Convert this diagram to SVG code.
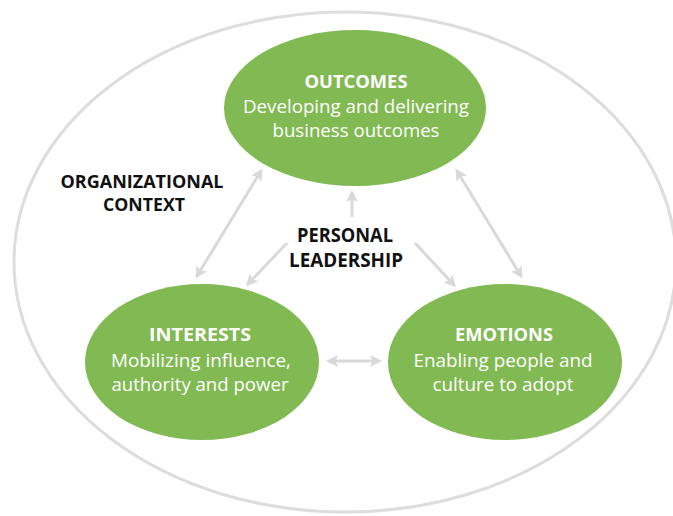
<svg xmlns="http://www.w3.org/2000/svg" width="673" height="516" viewBox="0 0 673 516">
  <style>
    .bubble { fill: #81b952; }
    .ctx { fill: none; stroke: #dddddd; stroke-width: 3; }
    .link { fill: none; stroke: #d9d9d9; stroke-width: 3; }
    .head { font-family: "Open Sans", "Liberation Sans", sans-serif; font-weight: bold; font-size: 18.5px; fill: #ffffff; text-anchor: middle; }
    .body { font-family: "Open Sans", "Liberation Sans", sans-serif; font-size: 18.5px; fill: #ffffff; text-anchor: middle; }
    .label { font-family: "Open Sans", "Liberation Sans", sans-serif; font-weight: bold; font-size: 19px; fill: #111111; text-anchor: middle; }
    .small { font-size: 18px; }
  </style>
  <defs>
    <marker id="arrow" viewBox="0 0 12 12" refX="9" refY="6" markerWidth="12" markerHeight="12" markerUnits="userSpaceOnUse" orient="auto-start-reverse">
      <path d="M0,0 L12,6 L0,12 L2.5,6 z" fill="#d9d9d9"/>
    </marker>
  </defs>
  <rect width="673" height="516" fill="#ffffff"/>

  <!-- organizational context boundary -->
  <g id="context">
    <ellipse class="ctx" cx="345" cy="262" rx="331" ry="250"/>
    <text class="label small" x="142" y="188" textLength="163" lengthAdjust="spacingAndGlyphs">ORGANIZATIONAL</text>
    <text class="label small" x="144" y="211" textLength="82" lengthAdjust="spacingAndGlyphs">CONTEXT</text>
  </g>

  <g id="connectors">
    <line class="link" x1="261" y1="171" x2="197" y2="276" marker-start="url(#arrow)" marker-end="url(#arrow)"/>
    <line class="link" x1="457" y1="171" x2="521" y2="276" marker-start="url(#arrow)" marker-end="url(#arrow)"/>
    <line class="link" x1="329" y1="361" x2="379" y2="361" marker-start="url(#arrow)" marker-end="url(#arrow)"/>
    <line class="link" x1="352" y1="217" x2="352" y2="193" marker-end="url(#arrow)"/>
    <line class="link" x1="287" y1="243" x2="248" y2="284" marker-end="url(#arrow)"/>
    <line class="link" x1="415" y1="243" x2="454" y2="285" marker-end="url(#arrow)"/>
  </g>

  <g id="leadership">
    <text class="label" x="345" y="242" textLength="96" lengthAdjust="spacingAndGlyphs">PERSONAL</text>
    <text class="label" x="346" y="267" textLength="114" lengthAdjust="spacingAndGlyphs">LEADERSHIP</text>
  </g>

  <g id="outcomes">
    <ellipse class="bubble" cx="355" cy="108" rx="131" ry="78"/>
    <text class="head" x="356" y="88" textLength="103" lengthAdjust="spacingAndGlyphs">OUTCOMES</text>
    <text class="body" x="356" y="113" textLength="226" lengthAdjust="spacingAndGlyphs">Developing and delivering</text>
    <text class="body" x="356" y="137" textLength="167" lengthAdjust="spacingAndGlyphs">business outcomes</text>
  </g>

  <g id="interests">
    <ellipse class="bubble" cx="202" cy="362" rx="117" ry="78"/>
    <text class="head" x="200" y="341" textLength="102" lengthAdjust="spacingAndGlyphs">INTERESTS</text>
    <text class="body" x="201" y="367" textLength="180" lengthAdjust="spacingAndGlyphs">Mobilizing influence,</text>
    <text class="body" x="200" y="391" textLength="177" lengthAdjust="spacingAndGlyphs">authority and power</text>
  </g>

  <g id="emotions">
    <ellipse class="bubble" cx="505" cy="362" rx="117" ry="78"/>
    <text class="head" x="504" y="341" textLength="98" lengthAdjust="spacingAndGlyphs">EMOTIONS</text>
    <text class="body" x="503" y="367" textLength="179" lengthAdjust="spacingAndGlyphs">Enabling people and</text>
    <text class="body" x="503" y="391" textLength="141" lengthAdjust="spacingAndGlyphs">culture to adopt</text>
  </g>
</svg>
